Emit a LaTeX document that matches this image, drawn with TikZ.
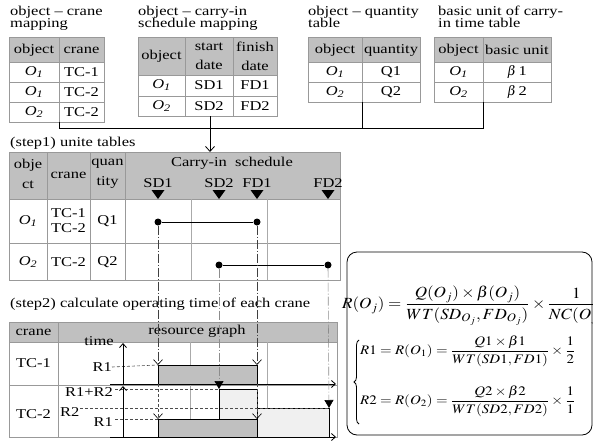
\documentclass[tikz,border=0pt]{standalone}
\usepackage{amsmath}
\usepackage{mathptmx}
\usepackage{fontspec}
\setmainfont{Liberation Serif}[FakeStretch=1.22]
\usepackage{graphicx}
\usetikzlibrary{arrows.meta,decorations.pathreplacing}
\definecolor{thead}{HTML}{C0C0C0}
\definecolor{tline}{HTML}{999999}
\definecolor{tfaint}{HTML}{AAAAAA}
\definecolor{tlight}{HTML}{F0F0F0}
\newcommand\Osub[1]{\textit{O\textsubscript{#1}}}
\begin{document}
\begin{tikzpicture}[x=1pt,y=-1pt,
  font=\fontsize{13.5}{15}\selectfont,
  txt/.style={inner sep=0pt},
  two/.style={inner sep=0pt, align=center, font=\fontsize{13.5}{#1}\selectfont},
  cellline/.style={draw=tline, line width=0.9pt},
  faint/.style={draw=tfaint, line width=0.7pt},
  link/.style={draw=black, line width=0.8pt},
  openhead/.style={-{Straight Barb[length=5pt,width=9pt,color=black]}},
  smallhead/.style={-{Straight Barb[length=4pt,width=7pt]}},
  solidhead/.style={-{Triangle[length=8pt,width=9pt,color=black]}},
  dropdark/.style={draw=black!75, line width=0.6pt, dash pattern=on 9pt off 2pt on 1pt off 2pt},
  droplight/.style={draw=black!45, line width=0.6pt, dash pattern=on 9pt off 2pt on 1pt off 2pt},
  guide/.style={draw=black!70, line width=0.6pt, dash pattern=on 3pt off 2pt},
  dot/.style={circle, fill=black, inner sep=0pt, minimum size=7pt},
  tick/.style={fill=black},
  bar/.style={fill=thead, draw=black, line width=0.8pt},
  lbar/.style={fill=tlight, draw=black, line width=0.8pt},
  eqn/.style={inner sep=0pt, anchor=west}]
\useasboundingbox (0,0) rectangle (593,441);

% ---------- titles ----------
\node[txt, anchor=base west] (t1a) at (10,16) {object – crane};
\node[txt, anchor=base west] (t1b) at (10,28) {mapping};
\node[txt, anchor=base west] (t2a) at (138,16) {object – carry-in};
\node[txt, anchor=base west] (t2b) at (138,28) {schedule mapping};
\node[txt, anchor=base west] (t3a) at (308,16) {object – quantity};
\node[txt, anchor=base west] (t3b) at (308,28) {table};
\node[txt, anchor=base west] (t4a) at (438,16) {basic unit of carry-};
\node[txt, anchor=base west] (t4b) at (438,28) {in time table};

% ---------- object - crane table ----------
\fill[thead] (9,37) rectangle (104,62);
\draw[cellline] (9,37) rectangle (104,122);
\draw[cellline] (59,37) -- (59,122);
\foreach \y in {62,82,102} \draw[cellline] (9,\y) -- (104,\y);
\node[txt] (a00) at (34,50) {object};
\node[txt] (a01) at (81.5,50) {crane};
\node[txt] (a10) at (34,72) {\Osub{1}};
\node[txt] (a11) at (81.5,72) {TC-1};
\node[txt] (a20) at (34,92) {\Osub{1}};
\node[txt] (a21) at (81.5,92) {TC-2};
\node[txt] (a30) at (34,112) {\Osub{2}};
\node[txt] (a31) at (81.5,112) {TC-2};
\coordinate (aout) at (59,122);

% ---------- object - carry-in schedule table ----------
\fill[thead] (138,37) rectangle (277,75);
\draw[cellline] (138,37) rectangle (277,116);
\draw[cellline] (185,37) -- (185,116);
\draw[cellline] (233,37) -- (233,116);
\draw[cellline] (138,75) -- (277,75);
\draw[cellline] (138,96) -- (277,96);
\node[txt] (b00) at (161.5,56) {object};
\node[two=19] (b01) at (209,56) {start\\date};
\node[two=19] (b02) at (255,56) {finish\\date};
\node[txt] (b10) at (161.5,85.5) {\Osub{1}};
\node[txt] (b11) at (209,85.5) {SD1};
\node[txt] (b12) at (255,85.5) {FD1};
\node[txt] (b20) at (161.5,106) {\Osub{2}};
\node[txt] (b21) at (209,106) {SD2};
\node[txt] (b22) at (255,106) {FD2};
\coordinate (bout) at (210,116);

% ---------- object - quantity table ----------
\fill[thead] (308,37) rectangle (420,62);
\draw[cellline] (308,37) rectangle (420,102);
\draw[cellline] (362,37) -- (362,102);
\draw[cellline] (308,62) -- (420,62);
\draw[cellline] (308,82) -- (420,82);
\node[txt] (c00) at (335,50) {object};
\node[txt] (c01) at (391,50) {quantity};
\node[txt] (c10) at (335,72) {\Osub{1}};
\node[txt] (c11) at (391,72) {Q1};
\node[txt] (c20) at (335,92) {\Osub{2}};
\node[txt] (c21) at (391,92) {Q2};
\coordinate (cout) at (362,102);

% ---------- basic unit table ----------
\fill[thead] (434,37) rectangle (551,62);
\draw[cellline] (434,37) rectangle (551,102);
\draw[cellline] (483,37) -- (483,102);
\draw[cellline] (434,62) -- (551,62);
\draw[cellline] (434,82) -- (551,82);
\node[txt] (d00) at (458.5,50) {object};
\node[txt] (d01) at (517,50) {basic unit};
\node[txt] (d10) at (458.5,72) {\Osub{1}};
\node[txt] (d11) at (517,72) {$\beta$\,1};
\node[txt] (d20) at (458.5,92) {\Osub{2}};
\node[txt] (d21) at (517,92) {$\beta$\,2};
\coordinate (dout) at (483,102);

% ---------- links into step 1 ----------
\coordinate (join) at (483,128);
\draw[link] (aout) -- (59,128) -- (join) -- (dout);
\draw[link] (cout) -- (362,128);
\coordinate (s1in) at (210,152);
\draw[link, openhead] (bout) -- (s1in);

% ---------- step 1 ----------
\node[txt, anchor=base west] (s1t) at (10,146) {(step1) unite tables};
\fill[thead] (9,152) rectangle (340,199);
\draw[cellline] (9,152) rectangle (340,280);
\foreach \x in {47,90,125} \draw[cellline] (\x,152) -- (\x,280);
\draw[cellline] (9,199) -- (340,199);
\draw[cellline] (9,243) -- (340,243);
\draw[faint] (191,199) -- (191,280);
\draw[faint] (267,199) -- (267,280);
\node[two=20] (e00) at (28,174) {obje\\ct};
\node[txt] (e01) at (68.5,175) {crane};
\node[two=20] (e02) at (107.5,174) {quan\\tity};
\node[txt] (e03) at (232,163) {Carry-in\ \ schedule};
\foreach \x/\l in {158/SD1,219/SD2,257/FD1,328/FD2}{
  \node[txt, anchor=base] (m\l) at (\x,187) {\l};
  \fill[tick] (\x-6.5,190) -- (\x+6.5,190) -- (\x,199) -- cycle;
}
\node[txt] (e10) at (28,221) {\Osub{1}};
\node[two=15] (e11) at (68.5,221) {TC-1\\TC-2};
\node[txt] (e12) at (107.5,221) {Q1};
\node[txt] (e20) at (28,262) {\Osub{2}};
\node[txt] (e21) at (68.5,262) {TC-2};
\node[txt] (e22) at (107.5,262) {Q2};
\node[dot] (p1) at (158,222) {};
\node[dot] (p2) at (257,222) {};
\node[dot] (p3) at (219,265) {};
\node[dot] (p4) at (328,265) {};
\draw[line width=1pt] (p1) -- (p2);
\draw[line width=1pt] (p3) -- (p4);

% ---------- step 2 ----------
\node[txt, anchor=base west] (s2t) at (10,307) {(step2) calculate operating time of each crane};
\fill[thead] (9,322) rectangle (337,342);
\draw[cellline] (9,322) rectangle (337,437);
\draw[cellline] (58,322) -- (58,437);
\draw[cellline] (9,342) -- (337,342);
\draw[cellline] (9,385) -- (337,385);
\draw[faint] (190,342) -- (190,437);
\draw[faint] (267,342) -- (267,437);
\node[txt] (f00) at (33.5,332) {crane};
\node[txt] (f01) at (197,331) {resource graph};
\node[txt] (f10) at (33.5,363) {TC-1};
\node[txt] (f20) at (33.5,414) {TC-2};

% bars
\draw[bar] (158,365) rectangle (257,384);
\draw[bar] (158,419) rectangle (257,437);
\draw[lbar] (219,389) rectangle (257,419);
\draw[lbar] (257,408) rectangle (329,437);

% level guides and labels
\node[txt, anchor=east] (g1) at (112,367) {R1};
\node[txt, anchor=east] (g2) at (113,392) {R1+R2};
\node[txt, anchor=west] (g3) at (60,412) {R2};
\node[txt, anchor=east] (g4) at (113,422) {R1};
\coordinate (q1) at (158,365);
\coordinate (q2) at (257,365);
\coordinate (q3) at (219,389);
\coordinate (q4) at (329,408);
\coordinate (q5) at (158,419);
\coordinate (q6) at (257,419);
\draw[guide] (g1.east) -- (q1);
\draw[guide] (115,389) -- (q3);
\draw[guide] (80,408) -- (q4);
\draw[guide] (115,419) -- (q5);

% axes
\node[txt] (tm) at (99,341) {time};
\draw[line width=0.8pt, smallhead] (123,384) -- (123,343);
\draw[line width=0.8pt, smallhead] (123,437) -- (123,386);
\draw[line width=0.8pt, smallhead] (110,384) -- (336,384);
\draw[line width=0.8pt, smallhead] (110,437) -- (336,437);

% drop lines from the schedule to the resource graph
\draw[dropdark, openhead] (p1) -- (q1);
\draw[dropdark, openhead] (p2) -- (q2);
\draw[droplight, solidhead] (p3) -- (q3);
\draw[droplight, solidhead] (p4) -- (q4);
\draw[guide, openhead] (158,384) -- (q5);
\draw[guide, openhead] (257,384) -- (q6);

% ---------- formula box ----------
\draw[rounded corners=10pt, line width=0.8pt] (347,252) rectangle (592,435);
\node[eqn] (fm1) at (342,306) {\scalebox{1.1}[1]{\fontsize{15.5}{17}\selectfont
  $R(O_j)=\dfrac{Q(O_j)\times\beta(O_j)}{WT(SD_{O_j},FD_{O_j})}\times\dfrac{1}{NC(O_j)}$}};
\node[eqn] (fm2) at (360,351) {\scalebox{1.15}[1]{\fontsize{13}{15}\selectfont
  $R1=R(O_1)=\dfrac{Q1\times\beta 1}{WT(SD1,FD1)}\times\dfrac{1}{2}$}};
\node[eqn] (fm3) at (360,401) {\scalebox{1.15}[1]{\fontsize{13}{15}\selectfont
  $R2=R(O_2)=\dfrac{Q2\times\beta 2}{WT(SD2,FD2)}\times\dfrac{1}{1}$}};
\draw[line width=0.8pt, decorate, decoration={brace, amplitude=5pt}]
  (359,424) -- (359,340);
\end{tikzpicture}
\end{document}
